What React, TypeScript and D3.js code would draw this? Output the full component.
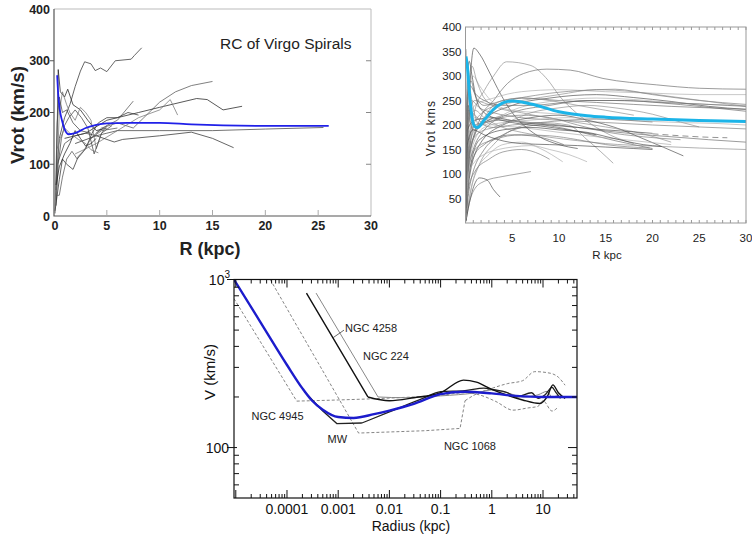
import * as d3 from 'd3';

type Pt = [number, number];

const SANS = "'Liberation Sans', Arial, Helvetica, sans-serif";
const NARROW = "'Liberation Sans Narrow', 'Liberation Sans', Arial, sans-serif";

// ---------- top left: RC of Virgo spirals ----------
const virgoXTicks = [0, 5, 10, 15, 20, 25, 30];
const virgoYTicks = [0, 100, 200, 300, 400];

const virgoMean: Pt[] = [
  [0.3, 272], [0.4, 235], [0.55, 205], [0.75, 185], [1.0, 168], [1.4, 158], [2, 160],
  [3, 170], [4, 176], [5, 179], [7, 180], [10, 180], [13, 177], [16, 175], [20, 174], [26, 174],
];

const virgoGalaxies: Pt[][] = [
  [[0.2, 60], [0.5, 150], [1, 190], [1.5, 215], [2, 250], [2.5, 280], [2.9, 298], [3.5, 294], [3.9, 281], [4.4, 286], [5, 279], [5.8, 300], [7.3, 303], [7.6, 310], [8.3, 325]],
  [[3.5, 150], [4.5, 170], [6, 180], [7.5, 170], [8.5, 190], [10, 220], [11.5, 240], [13, 252], [15, 260]],
  [[1, 150], [3, 160], [5, 185], [8, 200], [10, 210], [13.5, 227], [14.5, 225], [16, 205], [17.8, 212]],
  [[2, 120], [4, 140], [6, 165], [8, 190], [10, 205], [11, 225], [11.7, 195]],
  [[0.3, 100], [1, 140], [2, 155], [3, 160], [4, 155], [5, 160], [6, 165], [10, 165], [15, 165], [20, 168], [25.5, 171]],
  [[2, 140], [4, 155], [5.7, 143], [6.5, 148], [10, 155], [13, 162], [15, 150], [17, 132]],
  [[4, 160], [5, 175], [6, 185], [7.5, 222]],
  [[0.2, 50], [0.4, 283], [0.6, 240], [1, 230], [1.3, 245], [1.8, 215], [2.5, 205], [3.2, 185], [4, 165], [5, 170]],
  [[0.2, 30], [0.5, 200], [0.8, 240], [1.2, 215], [1.5, 200], [2, 185], [2.5, 210], [3, 200], [3.5, 185], [4, 130], [4.5, 160], [5, 175]],
  [[0.2, 20], [0.4, 100], [0.7, 150], [1, 175], [1.4, 190], [2, 205], [2.6, 190], [3.2, 170], [3.8, 120], [4.5, 160], [5.5, 175]],
  [[0.1, 10], [0.5, 70], [0.8, 110], [1.2, 100], [1.8, 90], [2.3, 115], [3, 130], [3.6, 160], [4.2, 180], [5, 190], [6, 190], [7, 200], [8, 195]],
  [[0.2, 40], [0.5, 40], [0.8, 75], [1.2, 110], [1.7, 125], [2.2, 110], [2.8, 125], [3.5, 150], [4.5, 165], [6, 170]],
  [[0.2, 60], [0.5, 95], [1, 120], [1.5, 140], [2, 165], [2.5, 150], [3, 135], [3.5, 140], [4, 150]],
  [[0.3, 130], [0.6, 150], [1, 170], [1.5, 160], [2.3, 148], [3, 140], [3.5, 128], [4.2, 122]],
  [[0.1, 5], [0.3, 180], [0.5, 230], [0.8, 200], [1.2, 205], [1.8, 180], [2.5, 165], [3.5, 160]],
];

// ---------- top right: large sample ----------
const sampleXTicks = [5, 10, 15, 20, 25, 30];
const sampleYTicks = [50, 100, 150, 200, 250, 300, 350, 400];

const sampleMean: Pt[] = [
  [0.05, 340], [0.2, 320], [0.4, 270], [0.7, 215], [1, 197], [1.3, 195], [2, 210], [3, 232],
  [4, 245], [5, 249], [7, 243], [10, 227], [13, 219], [15, 216], [20, 212], [25, 209], [30, 207],
];

const sampleGalaxies: Pt[][] = [
  [[0.05, 20], [0.3, 200], [0.9, 357], [1.5, 345], [2.6, 306], [3.7, 265], [5, 225], [6.5, 195], [8, 175], [10, 160], [12, 152]],
  [[0.05, 30], [0.4, 160], [1, 230], [2, 270], [3, 300], [4.4, 329], [6.9, 322], [8.8, 292], [10.1, 258], [11.9, 224], [14, 195], [16, 175], [18, 162]],
  [[0.05, 15], [0.4, 130], [1.5, 210], [3, 250], [4.5, 285], [6.2, 305], [8.7, 314], [11.2, 312], [14.7, 295], [20.4, 282], [25, 275], [30, 273]],
  [[0.05, 40], [0.3, 200], [1, 240], [3, 255], [6, 268], [10, 272], [15, 268], [20, 265], [25, 262], [30, 262]],
  [[0.05, 25], [0.4, 170], [1.5, 220], [4, 245], [8, 262], [12, 270], [16, 273], [20, 262], [25, 250], [30, 242]],
  [[0.05, 10], [0.5, 150], [2, 210], [5, 240], [9, 255], [14, 262], [18, 256], [22, 248], [26, 238], [30, 232]],
  [[0.05, 50], [0.3, 220], [1, 250], [3, 240], [6, 250], [10, 262], [14, 272], [18, 268], [22, 258], [26, 248], [30, 238]],
  [[0.05, 5], [0.4, 120], [2, 190], [5, 225], [9, 240], [13, 250], [17, 250], [21, 245], [25, 238], [30, 228]],
  [[0.05, 60], [0.3, 250], [0.8, 300], [1.5, 280], [3, 245], [5, 230], [8, 225], [12, 220], [16, 215], [20, 212], [24, 210]],
  [[0.05, 30], [0.6, 250], [1.5, 235], [3, 225], [6, 215], [10, 210], [15, 205], [20, 200], [25, 196], [30, 192]],
  [[0.05, 10], [0.4, 90], [1.5, 160], [4, 200], [7, 215], [10, 220], [13, 210], [16, 195], [19, 172], [23.3, 137]],
  [[0.05, 5], [0.5, 60], [1.5, 120], [3, 160], [5, 190], [8, 205], [11, 200], [13, 170], [15.8, 122]],
  [[0.05, 15], [0.5, 80], [2, 150], [4, 180], [6, 195], [8, 200], [10, 195], [13, 182], [16, 168], [20, 152]],
  [[0.05, 8], [0.4, 50], [1, 100], [2.5, 140], [4, 160], [6, 165], [8, 152], [10.4, 125]],
  [[0.05, 5], [0.4, 40], [1, 70], [2, 85], [4, 95], [5.5, 100], [7, 105]],
  [[0.05, 3], [0.3, 30], [0.8, 70], [1.5, 92], [2.3, 88], [3, 68], [3.7, 53]],
  [[0.05, 45], [0.3, 200], [1, 230], [2, 215], [4, 195], [6, 185], [9, 175], [12, 168], [15, 162], [20, 157], [25, 153], [30, 150]],
  [[0.05, 20], [0.3, 120], [1, 200], [2, 205], [4, 210], [7, 205], [10, 200], [14, 190], [18, 182], [22, 176], [26, 170], [30, 165]],
  [[0.05, 35], [0.3, 170], [1, 215], [3, 200], [6, 195], [10, 185], [14, 176], [18, 168], [22, 160]],
  [[0.05, 18], [0.3, 140], [1, 190], [3, 210], [6, 220], [9, 215], [12, 200], [15, 186], [19, 176], [23, 170]],
  [[0.05, 12], [0.4, 100], [1.5, 170], [4, 190], [7, 195], [10, 190], [13, 185], [16, 172], [19, 160], [21, 156]],
  [[0.05, 70], [0.2, 250], [0.7, 320], [1.2, 290], [2, 255], [3.5, 235], [6, 225], [9, 214], [12, 205], [15, 196], [19, 182], [22, 165]],
  [[0.05, 80], [0.2, 260], [0.6, 290], [1, 262], [2, 240], [4, 250], [6, 255], [10, 250], [14, 246], [18, 242], [22, 238], [26, 235], [30, 232]],
  [[0.05, 35], [0.3, 180], [1, 200], [2, 200], [3, 210], [5, 230], [8, 245], [10, 250], [14, 255], [18, 252], [22, 246], [26, 242], [30, 240]],
  [[0.05, 15], [0.3, 110], [1, 150], [3, 170], [6, 180], [9, 178], [12, 170], [15, 160], [19.7, 153]],
  [[0.05, 40], [0.2, 190], [1, 210], [3, 215], [6, 205], [9, 200], [12, 195], [15, 190], [18, 186], [20, 183]],
  [[0.05, 25], [0.3, 150], [1.5, 185], [3, 195], [5, 210], [7, 225], [10, 235], [13, 240], [16, 235], [20, 222], [23, 206], [25, 196]],
  [[0.05, 10], [0.3, 90], [1, 140], [2, 160], [3, 172], [5, 180], [7, 178], [9, 170], [10.5, 160]],
  [[0.05, 8], [0.5, 130], [1, 170], [2, 195], [4, 205], [7, 210], [11, 215], [15, 212], [19, 208], [23, 205], [27, 203], [30, 200]],
  [[0.05, 55], [0.3, 230], [1, 220], [2, 200], [3, 195], [5, 200], [8, 205], [11, 210], [14, 212], [17, 210], [20, 206]],
  [[0.05, 90], [0.2, 300], [0.4, 330], [0.7, 300], [1.2, 250], [2, 225], [3, 215], [5, 205], [8, 198], [11, 190], [14, 180]],
  [[0.05, 12], [0.3, 120], [1, 180], [2, 215], [3, 240], [4, 250], [6, 255], [9, 250], [12, 240], [15, 230], [18, 220]],
  [[0.05, 60], [0.1, 210], [0.5, 280], [1, 265], [2, 250], [4, 240], [7, 240], [10, 245], [13, 250], [16, 250], [19, 248], [22, 245], [25, 243], [28, 240], [30, 238]],
  [[0.05, 10], [0.3, 100], [1, 125], [2, 140], [3.5, 150], [5, 155], [7, 158], [9, 150], [11, 140], [13, 125]],
  [[0.05, 5], [0.3, 70], [1, 105], [2.5, 130], [4, 145], [6, 150], [8, 140], [9, 130]],
  [[0.05, 30], [0.2, 160], [0.8, 190], [2, 180], [3.5, 170], [6, 162], [9, 160], [12, 158], [15, 155], [18, 152], [20, 150]],
  [[0.05, 50], [0.15, 230], [0.3, 300], [0.6, 260], [1, 220], [1.5, 200], [2.5, 210], [4, 220]],
  [[0.05, 20], [0.15, 160], [0.3, 240], [0.5, 210], [0.8, 190], [1.5, 200], [3, 215]],
  [[0.02, 200], [0.04, 355], [0.1, 345], [0.2, 300]],
];

const sampleDashed: Pt[] = [[20, 182], [23, 178], [26, 175], [28, 174]];

// ---------- bottom: log-log central rotation curves ----------
const logXTicks = [0.0001, 0.001, 0.01, 0.1, 1, 10];
const logXLabels = ['0.0001', '0.001', '0.01', '0.1', '1', '10'];
const logYMajor = [100, 1000];

const modelCurve: Pt[] = [
  [9.2e-6, 1000], [3e-5, 560], [1e-4, 310], [2e-4, 225], [3e-4, 192], [5e-4, 168], [1e-3, 152],
  [2e-3, 150], [5e-3, 158], [0.01, 166], [0.03, 182], [0.1, 208], [0.3, 215], [1, 210], [3, 203], [10, 200], [46, 200],
];
const ngc4258: Pt[] = [
  [2.4e-4, 830], [3.8e-3, 200], [0.01, 190], [0.03, 198], [0.1, 212], [0.28, 252], [0.5, 245], [1, 222],
  [2, 205], [4, 192], [8.7, 183], [12, 200], [15.6, 236], [20, 212], [27, 196],
];
const ngc224: Pt[] = [
  [3.7e-4, 830], [6e-3, 200], [0.02, 198], [0.1, 203], [0.5, 212], [1, 220], [2, 212], [4, 200],
  [8, 206], [12, 216], [15, 200], [20, 205],
];
const milkyWay: Pt[] = [
  [2.2e-4, 215], [5e-4, 165], [9.4e-4, 139], [2.9e-3, 140], [0.01, 163], [0.045, 196], [0.1, 215],
  [0.3, 218], [0.7, 226], [1, 222], [2, 212], [3, 200], [6, 212], [8, 196], [11, 206], [15, 228], [18, 212], [22, 196],
];
const ngc4945: Pt[] = [
  [9.2e-6, 770], [1.55e-4, 189], [1e-3, 192], [0.01, 197], [0.1, 205], [0.3, 212], [0.6, 205],
  [1.2, 188], [2.6, 167], [5, 172], [8, 176], [10, 190], [15, 165], [20, 175],
];
const ngc1068: Pt[] = [
  [4.7e-5, 1000], [2.5e-3, 122], [0.05, 126], [0.24, 130], [0.3, 190], [0.45, 205], [1, 225],
  [2, 240], [4, 250], [6.9, 283], [13.8, 277], [20, 262], [27, 235],
];

const galaxyLabels: { name: string; at: Pt }[] = [
  { name: 'NGC 4258', at: [1.36e-3, 487] },
  { name: 'NGC 224', at: [3.05e-3, 332] },
  { name: 'NGC 4945', at: [2.03e-5, 146] },
  { name: 'MW', at: [6.2e-4, 106] },
  { name: 'NGC 1068', at: [0.116, 96.7] },
];
const leader4258: Pt[] = [[7.9e-4, 450], [1.3e-3, 500]];

function VirgoPanel() {
  const x = d3.scaleLinear().domain([0, 30]).range([54, 371]);
  const y = d3.scaleLinear().domain([0, 400]).range([216, 9]);
  const jagged = d3.line<Pt>().x((d) => x(d[0])).y((d) => y(d[1]));
  const smooth = d3.line<Pt>().x((d) => x(d[0])).y((d) => y(d[1])).curve(d3.curveMonotoneX);
  const shades = ['#333', '#555', '#222', '#777', '#444'];

  return (
    <g fontFamily={SANS}>
      {/* light top/right frame */}
      <path d={`M${x(0)},${y(400)}H${x(30)}V${y(0)}`} fill='none' stroke='#bbb' />
      {virgoGalaxies.map((g, i) => (
        <path key={i} d={jagged(g) ?? ''} fill='none' stroke={shades[i % shades.length]} strokeWidth={0.75} />
      ))}
      <path d={smooth(virgoMean) ?? ''} fill='none' stroke='#2020e8' strokeWidth={1.8} />
      {/* axes */}
      <path d={`M${x(0)},${y(400)}V${y(0)}H${x(30)}`} fill='none' stroke='#555' strokeWidth={1.2} />
      {virgoYTicks.slice(1, -1).map((t) => (
        <g key={t}>
          <line x1={x(0) - 4} x2={x(0)} y1={y(t)} y2={y(t)} stroke='#555' />
          <line x1={x(30) - 5} x2={x(30)} y1={y(t)} y2={y(t)} stroke='#888' />
        </g>
      ))}
      {virgoXTicks.slice(1, -1).map((t) => (
        <line key={t} x1={x(t)} x2={x(t)} y1={y(0)} y2={y(0) - 6} stroke='#aaa' />
      ))}
      {virgoYTicks.map((t) => (
        <text key={t} x={x(0) - 4} y={y(t) + 4.5} textAnchor='end' fontSize={12.5} fontWeight='bold' fill='#222'>
          {t}
        </text>
      ))}
      {virgoXTicks.map((t) => (
        <text key={t} x={x(t) + (t === 0 ? 1 : 0)} y={230} textAnchor='middle' fontSize={12.5} fontWeight='bold' fill='#222'>
          {t}
        </text>
      ))}
      <text x={210} y={255} textAnchor='middle' fontSize={18} fontWeight='bold' fill='#222'>
        R (kpc)
      </text>
      <text transform='translate(24,115) rotate(-90)' textAnchor='middle' fontSize={19} fontWeight='bold' fill='#222'>
        Vrot (km/s)
      </text>
      <text x={220} y={49} fontSize={15.5} fill='#222'>
        RC of Virgo Spirals
      </text>
    </g>
  );
}

function SamplePanel() {
  const x = d3.scaleLinear().domain([0, 30]).range([465.5, 746]);
  const y = d3.scaleLinear().domain([0, 400]).range([223, 27]);
  const line = d3.line<Pt>().x((d) => x(d[0])).y((d) => y(d[1])).curve(d3.curveMonotoneX);
  const shades = ['#444', '#888', '#666', '#aaa', '#777'];
  const minor = d3.range(0, 30.01, 5 / 6);

  return (
    <g fontFamily={SANS}>
      <defs>
        <clipPath id='clipSample'>
          <rect x={x(0)} y={y(400)} width={x(30) - x(0)} height={y(0) - y(400)} />
        </clipPath>
      </defs>
      <g clipPath='url(#clipSample)'>
        {sampleGalaxies.map((g, i) => (
          <path key={i} d={line(g) ?? ''} fill='none' stroke={shades[i % shades.length]} strokeWidth={0.65} />
        ))}
        <path d={line(sampleDashed) ?? ''} fill='none' stroke='#666' strokeWidth={0.7} strokeDasharray='6,4' />
        <path d={line(sampleMean) ?? ''} fill='none' stroke='#1cb4e8' strokeWidth={3} />
      </g>
      <rect x={x(0)} y={y(400)} width={x(30) - x(0)} height={y(0) - y(400)} fill='none' stroke='#999' />
      {minor.map((t, i) => (
        <g key={i} stroke='#999'>
          <line x1={x(t)} x2={x(t)} y1={y(400)} y2={y(400) + 3} />
          <line x1={x(t)} x2={x(t)} y1={y(0)} y2={y(0) - 3} />
        </g>
      ))}
      {sampleYTicks.map((t) => (
        <text key={t} x={x(0) - 4} y={y(t) + 4} textAnchor='end' fontSize={11.5} fill='#222'>
          {t}
        </text>
      ))}
      {sampleXTicks.map((t) => (
        <text key={t} x={x(t)} y={242} textAnchor='middle' fontSize={11.5} fill='#222'>
          {t}
        </text>
      ))}
      <text x={607} y={259} textAnchor='middle' fontSize={11.5} fill='#222'>
        R kpc
      </text>
      <text transform='translate(435,128) rotate(-90)' textAnchor='middle' fontSize={12} letterSpacing={1.2} fill='#222'>
        Vrot kms
      </text>
    </g>
  );
}

function LogPanel() {
  const x = d3.scaleLog().domain([10 ** -5.035, 10 ** 1.664]).range([234, 577]);
  const y = d3.scaleLog().domain([10 ** 1.7, 1000]).range([498, 279.5]);
  const line = d3.line<Pt>().x((d) => x(d[0])).y((d) => y(d[1])).curve(d3.curveMonotoneX);
  const straight = d3.line<Pt>().x((d) => x(d[0])).y((d) => y(d[1]));
  // straight (Keplerian) run up to the kink, smooth after it
  const kinked = (pts: Pt[], k: number) => (straight(pts.slice(0, k + 1)) ?? '') + (line(pts.slice(k)) ?? '');
  const [x0, x1] = x.range();
  const [y0, y1] = y.range();

  const xMinor: number[] = [];
  for (let e = -5; e <= 1; e++) {
    for (let k = 2; k <= 9; k++) {
      const v = k * 10 ** e;
      if (v > x.domain()[0] && v < x.domain()[1]) xMinor.push(v);
    }
  }
  const xMajor = [1e-5, ...logXTicks].filter((v) => v > x.domain()[0]);
  const yMinor = [60, 70, 80, 90, 200, 300, 400, 500, 600, 700, 800, 900];

  return (
    <g fontFamily={NARROW}>
      <defs>
        <clipPath id='clipLog'>
          <rect x={x0} y={y1} width={x1 - x0} height={y0 - y1} />
        </clipPath>
      </defs>
      <g clipPath='url(#clipLog)' fill='none'>
        <path d={kinked(ngc4945, 1)} stroke='#777' strokeWidth={0.9} strokeDasharray='3,2' />
        <path d={kinked(ngc1068, 4)} stroke='#777' strokeWidth={0.9} strokeDasharray='3,2' />
        <path d={kinked(ngc224, 1)} stroke='#888' strokeWidth={1} />
        <path d={kinked(milkyWay, 3)} stroke='#222' strokeWidth={1.3} />
        <path d={kinked(ngc4258, 1)} stroke='#111' strokeWidth={1.4} />
        <path d={line(modelCurve) ?? ''} stroke='#1c1ccc' strokeWidth={2.4} />
      </g>
      <path d={straight(leader4258) ?? ''} stroke='#444' strokeWidth={0.8} fill='none' />
      <rect x={x0} y={y1} width={x1 - x0} height={y0 - y1} fill='none' stroke='#111' strokeWidth={1.2} />
      {xMinor.map((v, i) => (
        <g key={i} stroke='#111'>
          <line x1={x(v)} x2={x(v)} y1={y0} y2={y0 - 4} />
          <line x1={x(v)} x2={x(v)} y1={y1} y2={y1 + 4} />
        </g>
      ))}
      {xMajor.map((v, i) => (
        <g key={i} stroke='#111'>
          <line x1={x(v)} x2={x(v)} y1={y0} y2={y0 - 8} />
          <line x1={x(v)} x2={x(v)} y1={y1} y2={y1 + 8} />
        </g>
      ))}
      {yMinor.map((v) => (
        <g key={v} stroke='#111'>
          <line x1={x0} x2={x0 + 5} y1={y(v)} y2={y(v)} />
          <line x1={x1} x2={x1 - 5} y1={y(v)} y2={y(v)} />
        </g>
      ))}
      {logYMajor.map((v) => (
        <g key={v} stroke='#111'>
          <line x1={x0 - 7} x2={x0 + 3} y1={y(v)} y2={y(v)} />
          <line x1={x1} x2={x1 - 9} y1={y(v)} y2={y(v)} />
        </g>
      ))}
      <text x={x0 - 5} y={y(100) + 5} textAnchor='end' fontSize={14} fill='#111'>
        100
      </text>
      <text x={x0 - 4} y={y(1000) + 5} textAnchor='end' fontSize={14} fill='#111'>
        10
        <tspan dy={-7} fontSize={10}>
          3
        </tspan>
      </text>
      {logXTicks.map((v, i) => (
        <text key={v} x={x(v)} y={514} textAnchor='middle' fontSize={14} fill='#111'>
          {logXLabels[i]}
        </text>
      ))}
      <text x={411} y={531} textAnchor='middle' fontSize={14} fill='#111'>
        Radius (kpc)
      </text>
      <text transform='translate(215,372) rotate(-90)' textAnchor='middle' fontSize={15} fill='#111'>
        V (km/s)
      </text>
      {galaxyLabels.map((l) => (
        <text key={l.name} x={x(l.at[0])} y={y(l.at[1])} fontSize={11} fill='#222'>
          {l.name}
        </text>
      ))}
    </g>
  );
}

export default function App() {
  return (
    <svg width={752} height={539} style={{ position: 'absolute', left: 0, top: 0, background: '#fff' }}>
      <VirgoPanel />
      <SamplePanel />
      <LogPanel />
    </svg>
  );
}
